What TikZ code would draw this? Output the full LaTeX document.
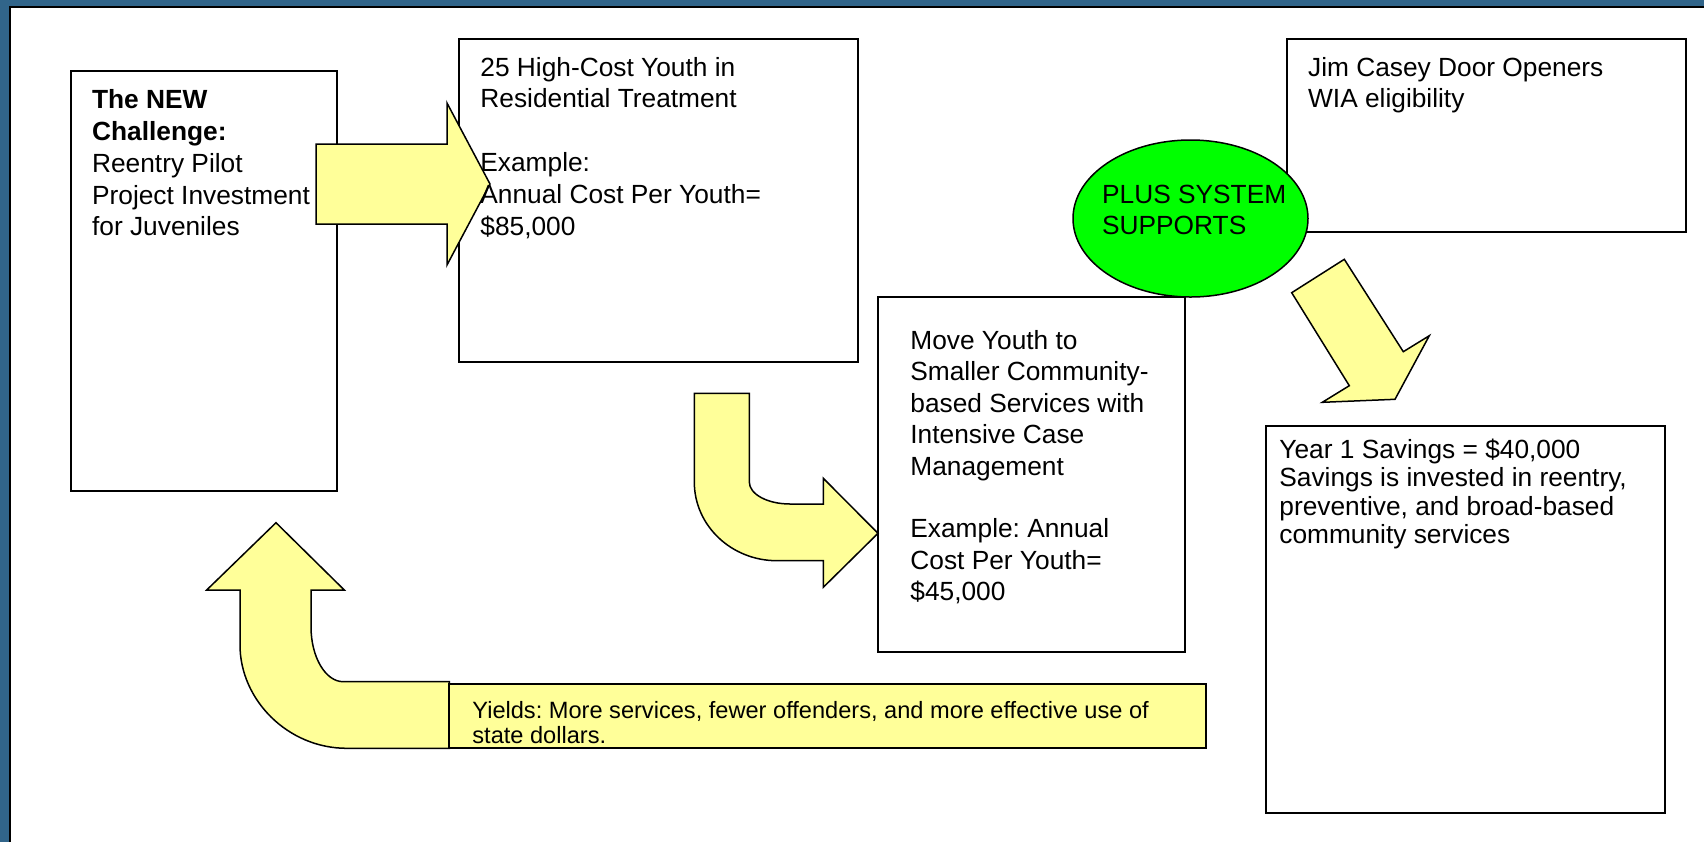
\documentclass[tikz,border=0pt]{standalone}
\usepackage{fontspec}
\setmainfont{Liberation Sans}
\usetikzlibrary{fit,shapes.geometric}
\definecolor{frameblue}{RGB}{49,101,138}
\definecolor{arrowyellow}{RGB}{255,255,153}
\definecolor{plusgreen}{RGB}{0,255,0}
\newcommand\fstrut{\rule{0pt}{12pt}}
\frenchspacing
\begin{document}
\frenchspacing
\begin{tikzpicture}[x=0.5pt,y=-0.5pt,
  box/.style={draw=black, line width=1pt, inner sep=0pt},
  txt/.style={anchor=north west, inner sep=0pt, align=left, font=\fontsize{13.15}{15.9}\selectfont},
  txtmove/.style={anchor=north west, inner sep=0pt, align=left, font=\fontsize{13.15}{15.7}\selectfont},
  txttight/.style={anchor=north west, inner sep=0pt, align=left, font=\fontsize{13.15}{14.2}\selectfont},
  txtsmall/.style={anchor=north west, inner sep=0pt, align=left, font=\fontsize{11.8}{12.5}\selectfont},
  blockarrow/.style={fill=arrowyellow, draw=black, line width=0.75pt, line join=miter}]
\useasboundingbox (0,0) rectangle (1704,842);
\fill[white] (0,0) rectangle (1704,842);
\fill[frameblue] (0,0) rectangle (1704,6);
\fill[frameblue] (0,0) rectangle (9,842);
\draw[line width=1pt] (10,842) -- (10,7) -- (1704,7);

% boxes
\node[box, fit={(71,71) (337,491)}] (challenge) {};
\node[box, fit={(459,39) (858,362)}] (highcost) {};
\node[box, fit={(878,297) (1185,652)}] (move) {};
\node[box, fit={(1287,39) (1686,232)}] (casey) {};
\node[box, fit={(1266,426) (1665,813)}] (savings) {};

% block arrows
\draw[blockarrow] (316,144) -- (447,144) -- (447,103) -- (490,184) -- (447,265) -- (447,224) -- (316,224) -- cycle;
\draw[blockarrow] (694.3,393.3) -- (749.3,393.3) -- (749.3,482)
  .. controls (749.3,494.2) and (767.5,504) .. (790,504)
  -- (823.3,504) -- (823.3,478.3) -- (878,533.3) -- (823.3,587.3) -- (823.3,560.7) -- (777,560.7)
  .. controls (731.3,560.7) and (694.3,525.5) .. (694.3,482) -- cycle;
\draw[blockarrow] (276,522.7) -- (344.3,590) -- (311,590) -- (311,626.7)
  .. controls (311,657.1) and (325.5,681.7) .. (343.3,681.7)
  -- (449.3,681.7) -- (449.3,748.3) -- (346.7,748.3)
  .. controls (287.8,748.3) and (240,699.8) .. (240,645)
  -- (240,590) -- (206.7,590) -- cycle;
\draw[blockarrow] (1291.7,292.7) -- (1344.3,259.3) -- (1403.3,351.7) -- (1429.3,335.7) -- (1395,399.3) -- (1322.3,402.3) -- (1349.3,385.7) -- cycle;

% ellipse and yields box
\node[ellipse, draw=black, line width=0.75pt, fill=plusgreen, minimum width=117.5pt, minimum height=78.5pt, inner sep=0pt] (plus) at (1190.5,218.5) {};
\node[box, line width=0.75pt, fill=arrowyellow, fit={(449,684) (1206,748)}] (yields) {};

% texts
\node[txt] (challengetext) at (91.7,84.3) {\fstrut\textbf{The NEW}\\\textbf{Challenge:}\\Reentry Pilot\\Project Investment\\for Juveniles};
\node[txt] (highcosttext) at (480,51.7) {\fstrut 25 High-Cost Youth in\\Residential Treatment\\[15.9pt]Example:\\Annual Cost Per Youth=\\\$85,000};
\node[txtmove] (movetext) at (910,325) {\fstrut Move Youth to\\Smaller Community-\\based Services with\\Intensive Case\\Management\\[15.7pt]Example: Annual\\Cost Per Youth=\\\$45,000};
\node[txt] (caseytext) at (1307.7,51.7) {\fstrut Jim Casey Door Openers\\WIA eligibility};
\node[txt] (plustext) at (1101.7,178.7) {\fstrut PLUS SYSTEM\\SUPPORTS};
\node[txttight] (savingstext) at (1279,434) {\fstrut Year 1 Savings = \$40,000\\Savings is invested in reentry,\\preventive, and broad-based\\community services};
\node[txtsmall] (yieldstext) at (472,694.3) {\fstrut Yields: More services, fewer offenders, and more effective use of\\state dollars.};
\end{tikzpicture}
\end{document}
